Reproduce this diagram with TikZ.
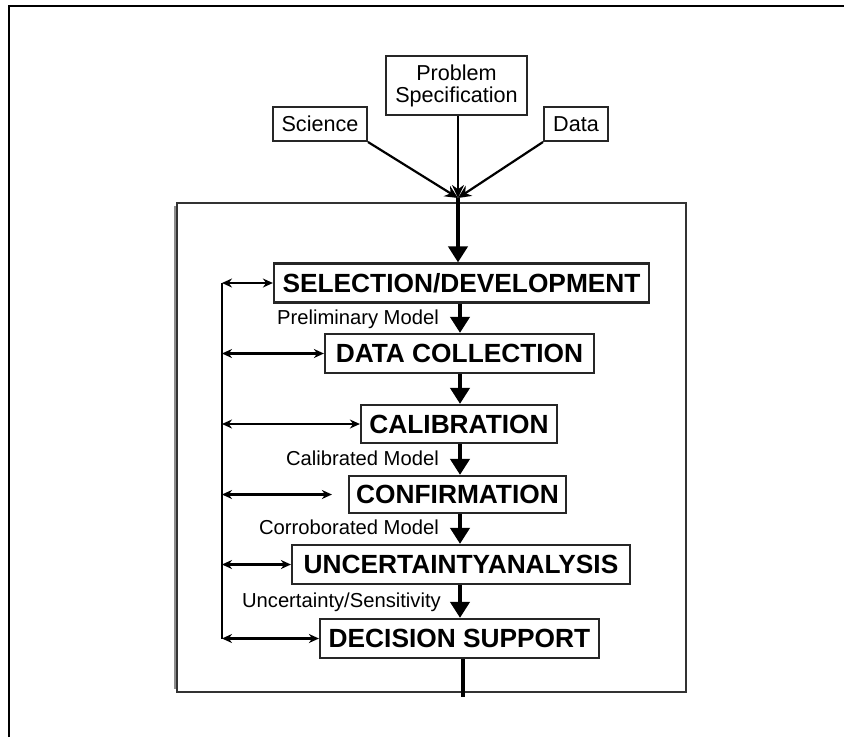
\documentclass[tikz,border=0pt]{standalone}
\usepackage{fontspec}
\setmainfont{Liberation Sans}
\usetikzlibrary{arrows.meta}
\begin{document}
\begin{tikzpicture}[x=1pt,y=-1pt,
  inbox/.style={draw=black!85, line width=2pt, rectangle, inner sep=0pt,
    align=center, font=\fontsize{21.6}{24}\selectfont},
  stagebox/.style={draw=black!85, line width=2.2pt, rectangle, inner sep=0pt,
    font=\fontsize{26.3}{28}\selectfont\bfseries, minimum height=39pt},
  lbl/.style={anchor=east, inner sep=0pt, font=\fontsize{20.2}{22}\selectfont},
  feed/.style={line width=2.4pt, {Stealth[length=10pt,width=9pt]}-{Stealth[length=10pt,width=9pt]}},
  inarrow/.style={line width=2.2pt, -{Stealth[length=13pt,width=12pt]}},
  flow/.style={line width=4pt, -{Triangle[length=16pt,width=19pt]}},
]
\useasboundingbox (0,0) rectangle (844,737);

% page frame (top and left edges)
\draw[line width=2.8pt] (9,737) -- (9,6) -- (844,6);

% process frame with shaded left edge
\draw[line width=3.5pt, black!45] (176,206) -- (176,689);
\draw[line width=1.8pt, black!80] (177,203) rectangle (686,692);

% inputs
\node[inbox, minimum width=141pt, minimum height=59pt] (prob) at (456.5,85.5) {Problem\\[-2pt]Specification};
\node[inbox, minimum width=94pt, minimum height=34pt] (sci) at (320,124) {Science};
\node[inbox, minimum width=64pt, minimum height=34pt] (dat) at (576,124) {Data};
\coordinate (merge) at (458,198);
\coordinate (col) at (460,0);
\coordinate (fbline) at (222,0);

% stages
\node[stagebox, minimum width=375pt] (sel)  at (461.5,283)   {SELECTION/DEVELOPMENT};
\node[stagebox, minimum width=269pt] (dc)   at (459.5,353.5) {DATA COLLECTION};
\node[stagebox, minimum width=196pt, minimum height=38pt] (cal)  at (459,424) {CALIBRATION};
\node[stagebox, minimum width=217pt, minimum height=37pt] (conf) at (457.5,494.5) {CONFIRMATION};
\node[stagebox, minimum width=338pt] (unc)  at (461,564.5)   {UNCERTAINTYANALYSIS};
\node[stagebox, minimum width=279pt] (dec)  at (459.5,638.5) {DECISION SUPPORT};
\coordinate (out) at (463,697);

% intermediate products
\node[lbl] (pm) at (439,319) {Preliminary Model};
\node[lbl] (cm) at (439,458) {Calibrated Model};
\node[lbl] (om) at (439,527) {Corroborated Model};
\node[lbl] (us) at (441,602) {Uncertainty/Sensitivity};

% inputs converge
\draw[inarrow] (sci.south east) -- (merge);
\draw[inarrow] (prob.south -| merge) -- (merge);
\draw[inarrow] (dat.south west) -- (merge);

% main flow
\draw[flow] (merge) -- (sel.north -| merge);
\draw[flow] (sel.south -| col) -- (dc.north -| col);
\draw[flow] (dc.south -| col) -- (cal.north -| col);
\draw[flow] (cal.south -| col) -- (conf.north -| col);
\draw[flow] (conf.south -| col) -- (unc.north -| col);
\draw[flow] (unc.south -| col) -- (dec.north -| col);
\draw[line width=4pt] (dec.south -| out) -- (out);

% feedback loop
\draw[line width=2.4pt] (sel.west -| fbline) -- (dec.west -| fbline);
\draw[feed] (sel.west -| fbline) -- (sel.west);
\draw[feed] (dc.west -| fbline) -- (dc.west);
\draw[feed] (cal.west -| fbline) -- (cal.west);
\draw[feed] (conf.west -| fbline) -- ([xshift=-16pt]conf.west);
\draw[feed] (unc.west -| fbline) -- (unc.west);
\draw[feed] (dec.west -| fbline) -- (dec.west);
\end{tikzpicture}
\end{document}
